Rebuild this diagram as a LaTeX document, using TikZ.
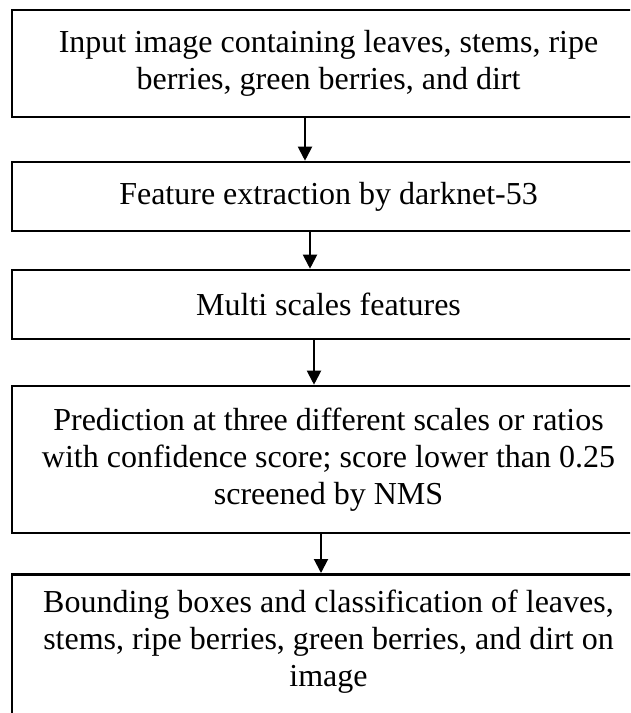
\documentclass[tikz,border=0pt]{standalone}
\usepackage{fontspec}
\setmainfont{Liberation Serif}
\usetikzlibrary{arrows.meta}
\begin{document}
\begin{tikzpicture}[x=1pt,y=1pt,
  box/.style={draw=black, line width=2.6pt, minimum width=633pt, inner sep=0pt, align=center,
    font=\fontsize{32}{37}\selectfont},
  txt/.style={inner sep=0pt, align=center, font=\fontsize{32}{37}\selectfont},
  flow/.style={line width=2pt, -{Triangle[width=14pt,length=14pt]}}]
\useasboundingbox (0,0) rectangle (630,-713);
\begin{scope}
\clip (0,0) rectangle (630,-713);
\node[box, minimum height=107pt] (b1) at (328.5,-63.5) {Input image containing leaves, stems, ripe\\berries, green berries, and dirt};
\node[box, minimum height=69pt] (b2) at (328.5,-196.5) {Feature extraction by darknet-53};
\node[box, minimum height=69pt] (b3) at (328.5,-304.5) {Multi scales features};
\node[box, minimum height=147pt] (b4) at (328.5,-459.5) {Prediction at three different scales or ratios\\with confidence score; score lower than 0.25\\screened by NMS};
\node[box, minimum height=180pt, anchor=north] (b5) at (328.5,-573) {};
\node[txt, anchor=north] (t5) at ([yshift=-17pt]b5.north) {Bounding boxes and classification of leaves,\\stems, ripe berries, green berries, and dirt on\\image};
\end{scope}
\draw[flow] ([xshift=-23.5pt]b1.south) -- ([xshift=-23.5pt]b2.north);
\draw[flow] ([xshift=-18.5pt]b2.south) -- ([xshift=-18.5pt]b3.north);
\draw[flow] ([xshift=-14.5pt]b3.south) -- ([xshift=-14.5pt]b4.north);
\draw[flow] ([xshift=-7.5pt]b4.south) -- ([xshift=-7.5pt]b5.north);
\end{tikzpicture}
\end{document}
